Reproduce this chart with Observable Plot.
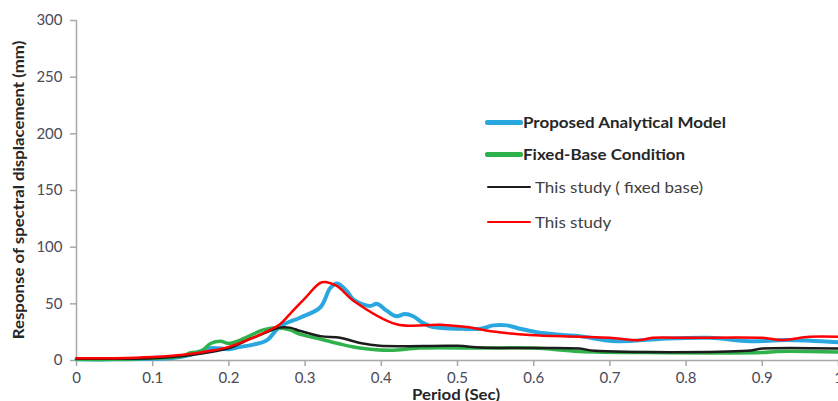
<!DOCTYPE html>
<html>
<head>
<meta charset="utf-8">
<script src="https://cdn.jsdelivr.net/npm/d3@7"></script>
<script src="https://cdn.jsdelivr.net/npm/@observablehq/plot@0.6"></script>
<style>
  html, body { margin: 0; padding: 0; background: #fff; }
  #wrap { position: relative; width: 838px; height: 401px; overflow: hidden; font-family: Lato, "Open Sans", sans-serif; }
  #chart svg g[aria-label="x-axis tick"] path,
  #chart svg g[aria-label="y-axis tick"] path,
  #chart svg g[aria-label="x-axis"] line,
  #chart svg g[aria-label="y-axis"] line { stroke: #a8a8a8; stroke-width: 1.5px; }
  .ytitle { position: absolute; left: 19px; top: 190px; transform: translate(-50%, -50%) rotate(-90deg) scaleX(1.16);
            white-space: nowrap; font-weight: 700; font-size: 14.5px; line-height: 1; color: #262626; }
  .xtitle { position: absolute; left: 456px; top: 388px; transform: translateX(-50%) scaleX(1.16);
            white-space: nowrap; font-weight: 700; font-size: 14.5px; line-height: 1; color: #262626; }
  .legend { position: absolute; left: 0; top: 0; }
  .item { position: absolute; display: flex; align-items: center; white-space: nowrap; font-size: 14.5px;
          color: #404040; transform: scaleX(1.17); transform-origin: left center; }
  .item.bold { font-weight: 700; color: #262626; }
</style>
</head>
<body>
<div id="wrap">
  <div id="chart"></div>
  <div class="ytitle">Response of spectral displacement (mm)</div>
  <div class="xtitle">Period (Sec)</div>
  <div class="legend" id="legend"></div>
</div>
<script>
// Axis ticks
const xTicks = [0, 0.1, 0.2, 0.3, 0.4, 0.5, 0.6, 0.7, 0.8, 0.9, 1];
const yTicks = [0, 50, 100, 150, 200, 250, 300];

// Proposed Analytical Model
const proposedPeriod = [0, 0.05, 0.1, 0.123, 0.15, 0.17, 0.18, 0.2, 0.215, 0.232, 0.25, 0.267, 0.294, 0.32, 0.333, 0.342, 0.355, 0.363, 0.385, 0.394, 0.407, 0.42, 0.431, 0.442, 0.455, 0.468, 0.507, 0.53, 0.547, 0.565, 0.582, 0.604, 0.638, 0.66, 0.709, 0.765, 0.83, 0.883, 0.932, 1.0];
const proposedDisp   = [1, 1, 1.5, 2, 5, 10, 11, 10, 12, 14, 18, 30, 38, 47, 64, 68, 61, 54, 48, 50, 44, 39, 41, 39, 33, 29.5, 28, 28, 31, 31, 28, 25, 22.5, 21.5, 17, 19, 20, 17, 18, 16];

// Fixed-Base Condition
const fixedPeriod = [0, 0.05, 0.1, 0.14, 0.15, 0.163, 0.176, 0.189, 0.2, 0.215, 0.228, 0.245, 0.263, 0.28, 0.294, 0.32, 0.346, 0.372, 0.412, 0.45, 0.53, 0.6, 0.66, 0.75, 0.9, 0.92, 1.0];
const fixedDisp   = [1, 1, 2, 4, 7, 8, 15, 17, 15, 18, 22, 27, 29, 27, 23, 19, 14.5, 11, 9, 11, 11, 11, 8, 7, 7, 8, 7.5];

// This study ( fixed base)
const studyFixedPeriod = [0, 0.05, 0.1, 0.14, 0.18, 0.2, 0.228, 0.25, 0.267, 0.28, 0.294, 0.32, 0.346, 0.372, 0.398, 0.5, 0.53, 0.6, 0.66, 0.68, 0.88, 0.9, 1.0];
const studyFixedDisp   = [1.5, 1.5, 2, 4, 8, 11, 19, 25, 29, 29, 26, 21.5, 20, 15.5, 13, 13, 11.5, 11, 10.5, 8.5, 8.5, 10.5, 10.5];

// This study
const studyPeriod = [0, 0.05, 0.1, 0.14, 0.18, 0.2, 0.228, 0.254, 0.267, 0.28, 0.3, 0.322, 0.341, 0.363, 0.42, 0.477, 0.512, 0.547, 0.595, 0.66, 0.7, 0.739, 0.756, 0.8, 0.9, 0.925, 0.962, 1.0];
const studyDisp   = [2, 2, 3, 5, 9, 12, 19, 27, 32, 41, 55, 69, 66, 53, 32, 31.5, 29.5, 25.5, 22.5, 21, 20, 18, 20, 20, 20, 18, 21, 21];

const series = [
  {name: "Proposed Analytical Model", period: proposedPeriod, disp: proposedDisp, color: "#2aa7df", width: 4, bold: true},
  {name: "Fixed-Base Condition", period: fixedPeriod, disp: fixedDisp, color: "#2fb24c", width: 3.5, bold: true},
  {name: "This study ( fixed base)", period: studyFixedPeriod, disp: studyFixedDisp, color: "#1c1c1c", width: 2.5, bold: false},
  {name: "This study", period: studyPeriod, disp: studyDisp, color: "#ff0000", width: 2.5, bold: false}
];

const marks = [
  Plot.ruleY([0], {stroke: "#a8a8a8", strokeWidth: 1.5}),
  Plot.ruleX([0], {stroke: "#a8a8a8", strokeWidth: 1.5}),
  ...series.map(s => Plot.line(s.period.map((p, i) => ({period: p, disp: s.disp[i]})), {
    x: "period", y: "disp", stroke: s.color, strokeWidth: s.width, curve: "catmull-rom"
  }))
];

const chart = Plot.plot({
  width: 838,
  height: 401,
  marginTop: 20,
  marginBottom: 41,
  marginLeft: 76,
  marginRight: 0,
  style: {color: "#4a4a58", fontFamily: "Lato, 'Open Sans', sans-serif", fontSize: "15px", background: "white"},
  x: {domain: [0, 1], ticks: xTicks, tickFormat: d => String(d), tickSize: 6, tickPadding: 6, label: null},
  y: {domain: [0, 300], ticks: yTicks, tickSize: 6, tickPadding: 8, label: null},
  marks
});
document.getElementById("chart").appendChild(chart);

// Legend inside the plot area
const legendRows = [
  {top: 122, swLeft: 485, swWidth: 38, textLeft: 523},
  {top: 154, swLeft: 485, swWidth: 38, textLeft: 523},
  {top: 187, swLeft: 487, swWidth: 44, textLeft: 535},
  {top: 222, swLeft: 487, swWidth: 44, textLeft: 535}
];
const legend = document.getElementById("legend");
series.forEach((s, i) => {
  const r = legendRows[i];
  const sw = document.createElement("div");
  sw.style.cssText = `position:absolute;left:${r.swLeft}px;top:${r.top - s.width / 2}px;width:${r.swWidth}px;height:${s.width + (s.bold ? 1 : 0)}px;background:${s.color};border-radius:2px;`;
  legend.appendChild(sw);
  const t = document.createElement("div");
  t.className = "item" + (s.bold ? " bold" : "");
  t.style.left = r.textLeft + "px";
  t.style.top = (r.top - 10) + "px";
  t.style.height = "20px";
  t.textContent = s.name;
  legend.appendChild(t);
});
</script>
</body>
</html>
